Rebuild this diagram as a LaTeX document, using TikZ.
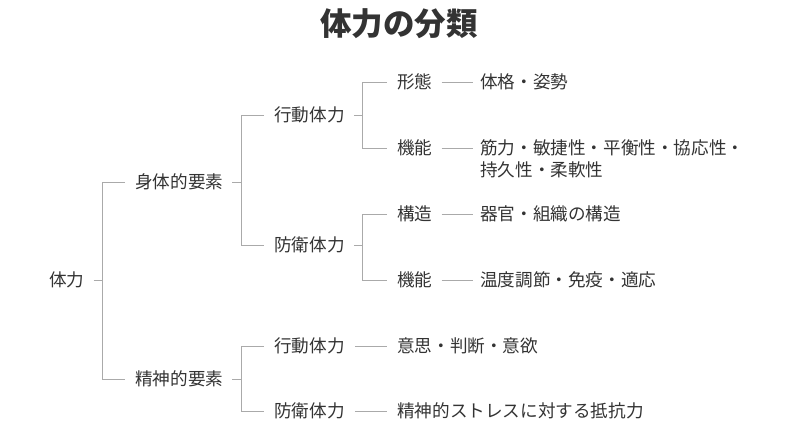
\documentclass[tikz,border=0pt]{standalone}
\usepackage{fontspec}
\newfontfamily\jp{Noto Sans CJK JP}
\definecolor{txt}{HTML}{333333}
\definecolor{lncol}{HTML}{AAAAAA}
\begin{document}
\begin{tikzpicture}[x=1pt,y=-1pt,
  lbl/.style={anchor=west,inner sep=0pt,font=\jp\fontsize{17.6}{22}\selectfont,text=txt},
  ttl/.style={inner sep=0pt,font=\jp\bfseries\fontsize{31.5}{36}\selectfont,text=txt},
  ln/.style={draw=lncol,line width=1pt}]
\useasboundingbox (0,0) rectangle (800,444);
\node[ttl] (title) at (399,24) {体力の分類};
% level 0
\node[lbl] (root) at (49,280) {体力};
% level 1
\node[lbl] (body) at (135,182) {身体的要素};
\node[lbl] (mind) at (135,379) {精神的要素};
% level 2
\node[lbl] (bact) at (274,115) {行動体力};
\node[lbl] (bdef) at (274,245) {防衛体力};
\node[lbl] (mact) at (274,346) {行動体力};
\node[lbl] (mdef) at (274,411) {防衛体力};
% level 3
\node[lbl] (form) at (397,82) {形態};
\node[lbl] (func1) at (397,148) {機能};
\node[lbl] (struct) at (397,214) {構造};
\node[lbl] (func2) at (397,280) {機能};
\node[lbl] (will) at (397,346) {意思・判断・意欲};
\node[lbl] (stress) at (397,411) {精神的ストレスに対する抵抗力};
% leaves
\node[lbl] (phys) at (480,82) {体格・姿勢};
\node[lbl] (abil1) at (480,148) {筋力・敏捷性・平衡性・協応性・};
\node[lbl] (abil2) at (480,170) {持久性・柔軟性};
\node[lbl] (organ) at (480,214) {器官・組織の構造};
\node[lbl] (temp) at (480,280) {温度調節・免疫・適応};
% tree connectors
\draw[ln] ([xshift=9pt]root.east) -- ++(9pt,0) coordinate (v0);
\draw[ln] ([xshift=-10pt]body.west) -| (v0) |- ([xshift=-10pt]mind.west);
\draw[ln] ([xshift=9pt]body.east) -- ++(9pt,0) coordinate (v1);
\draw[ln] ([xshift=-10pt]bact.west) -| (v1) |- ([xshift=-10pt]bdef.west);
\draw[ln] ([xshift=9pt]mind.east) -- ++(9pt,0) coordinate (v2);
\draw[ln] ([xshift=-10pt]mact.west) -| (v2) |- ([xshift=-10pt]mdef.west);
\draw[ln] ([xshift=9pt]bact.east) -- ++(9pt,0) coordinate (v3);
\draw[ln] ([xshift=-10pt]form.west) -| (v3) |- ([xshift=-10pt]func1.west);
\draw[ln] ([xshift=9pt]bdef.east) -- ++(9pt,0) coordinate (v4);
\draw[ln] ([xshift=-10pt]struct.west) -| (v4) |- ([xshift=-10pt]func2.west);
% leaf connectors
\draw[ln] ([xshift=9pt]form.east) -- ([xshift=-7pt]phys.west);
\draw[ln] ([xshift=9pt]func1.east) -- ([xshift=-7pt]abil1.west);
\draw[ln] ([xshift=9pt]struct.east) -- ([xshift=-7pt]organ.west);
\draw[ln] ([xshift=9pt]func2.east) -- ([xshift=-7pt]temp.west);
\draw[ln] ([xshift=10pt]mact.east) -- ([xshift=-10pt]will.west);
\draw[ln] ([xshift=10pt]mdef.east) -- ([xshift=-10pt]stress.west);
\end{tikzpicture}
\end{document}
